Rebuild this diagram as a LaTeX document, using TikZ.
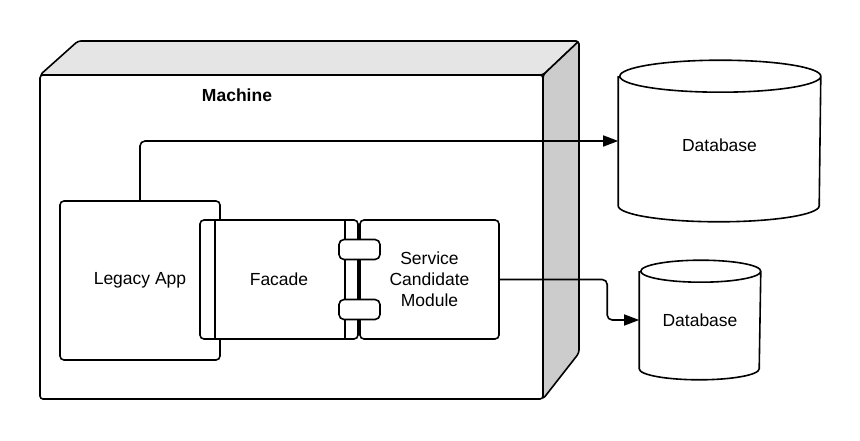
\documentclass[tikz,border=0pt]{standalone}
\usepackage{fontspec}
\setmainfont{Liberation Sans}
\usepackage{tikz}
\usetikzlibrary{calc,arrows.meta}

\begin{document}
\begin{tikzpicture}[>={Triangle[length=15pt,width=11pt]},x=1pt,y=1pt,line width=1.6pt,
    part/.style={draw,fill=white,rounded corners=4pt,inner sep=0pt},
    port/.style={part,rounded corners=5pt,minimum width=41pt,minimum height=20pt},
    dbbody/.style={inner sep=0pt}]
  % Configurable parameters
  \def\dbArx{100.5}                       % x radius, upper database
  \def\dbAry{16}                          % y radius, upper database
  \def\dbBrx{60}                          % x radius, lower database
  \def\dbBry{11}                          % y radius, lower database
  \newcommand{\labelfont}{\fontsize{17.5}{21}\selectfont}  % label font size
  %
  \useasboundingbox (0,0) rectangle (860,440);
  %
  % Machine (front, top and side faces)
  \draw[rounded corners=3pt,fill=white] (40,41) rectangle (543,365);
  \draw[rounded corners=3pt,fill=gray!20]
    (40,365) -- (78,399) -- (579,399) -- (543,365) -- cycle;
  \draw[rounded corners=3pt,fill=gray!40]
    (543,365) -- (579,399) -- (579,87) -- (543,41) -- cycle;
  \node[font=\labelfont\bfseries] (machine) at (237,345) {Machine};
  %
  % Components
  \node[part,minimum width=160pt,minimum height=159pt,font=\labelfont]
    (legacy) at (140,159.5) {Legacy App};
  \node[part,minimum width=158pt,minimum height=119pt,font=\labelfont]
    (facade) at (279,160.5) {Facade};
  \draw ([xshift=16pt]facade.north west) -- ([xshift=16pt]facade.south west);
  \draw ([xshift=-14pt]facade.north east) -- ([xshift=-14pt]facade.south east);
  \node[part,minimum width=139pt,minimum height=119pt,font=\labelfont,align=center]
    (service) at (429.5,160.5) {Service\\Candidate\\Module};
  \node[port] (port a) at (359.5,190.5) {};
  \node[port] (port b) at (359.5,130.5) {};
  %
  % Databases
  \node[dbbody,minimum width=201pt,minimum height=128pt,font=\labelfont,
    text height=21pt] (db1) at (719.5,299) {Database};
  \draw (db1.north west) -- (db1.south west)
    arc[start angle=180,end angle=360,x radius=\dbArx pt,y radius=\dbAry pt]
    -- (db1.north east)
    arc[start angle=0,end angle=360,x radius=\dbArx pt,y radius=\dbAry pt];
  \node[dbbody,minimum width=120pt,minimum height=96pt,font=\labelfont]
    (db2) at (700,120) {Database};
  \draw (db2.north west) -- (db2.south west)
    arc[start angle=180,end angle=360,x radius=\dbBrx pt,y radius=\dbBry pt]
    -- (db2.north east)
    arc[start angle=0,end angle=360,x radius=\dbBrx pt,y radius=\dbBry pt];
  %
  % Connecting lines
  \coordinate (turn) at ([xshift=-32pt]db2.west);
  \draw[->,rounded corners=5pt] (legacy.north) |- (db1.west);
  \draw[->,rounded corners=5pt] (service.east) -| (turn) -- (db2.west);
  %
\end{tikzpicture}
\end{document}
